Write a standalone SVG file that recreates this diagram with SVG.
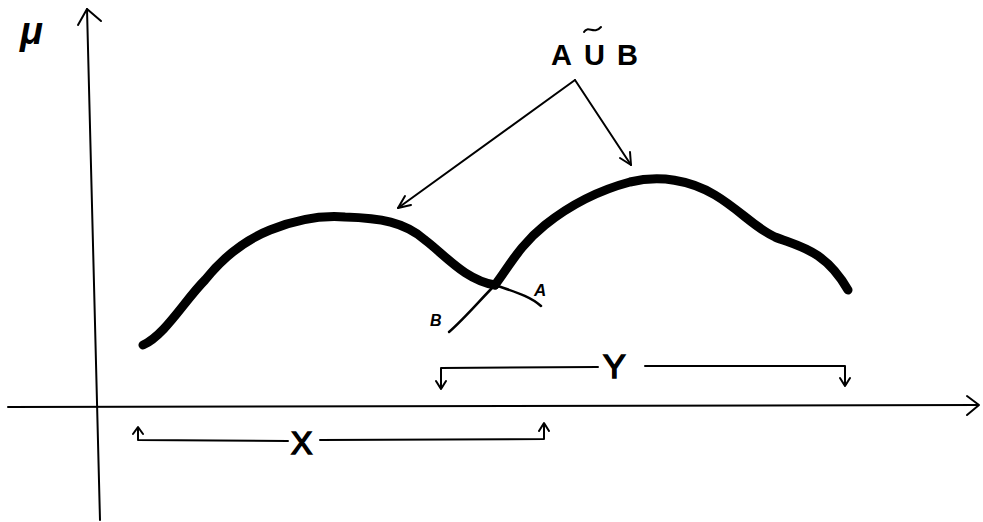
<svg xmlns="http://www.w3.org/2000/svg" width="983" height="522" viewBox="0 0 983 522">
<style>
.ln{fill:none;stroke:#000;stroke-width:2;stroke-linecap:round;stroke-linejoin:round}
.thick{fill:none;stroke:#000;stroke-width:9;stroke-linecap:round;stroke-linejoin:round}
.thin{fill:none;stroke:#000;stroke-width:2.5;stroke-linecap:round}
.t{font-family:"Liberation Sans",Arial,sans-serif;fill:#000}
.big{stroke:#000;stroke-width:1.5}
</style>
<rect width="983" height="522" fill="#fff"/>
<g id="axes">
<path class="ln" d="M100 520 L87 9"/>
<path class="ln" d="M78 25 L87 9 L101 21"/>
<path class="ln" d="M8 407 L978 405"/>
<path class="ln" d="M967 396 L979 405 L967 415"/>
</g>
<g id="mu"><text class="t" x="20" y="44" font-size="38" font-style="italic" font-weight="bold">μ</text></g>
<g id="curves">
<path class="thick" d="M143 345 C165 335 185 300 205 280 C225 255 245 240 270 230 C295 220 320 215 345 217 C380 218 405 222 425 240 C445 255 465 280 495 285"/>
<path class="thick" d="M495 285 C510 265 520 245 545 225 C570 205 600 190 630 182 C660 175 690 180 715 195 C740 210 755 228 775 237 C800 247 825 250 848 290"/>
<path class="thin" d="M495 285 C515 292 530 296 541 306"/>
<path class="thin" d="M495 285 C480 300 465 318 449 332"/>
</g>
<g id="labelA"><text class="t" x="534" y="296" font-size="17" font-style="italic" font-weight="bold">A</text></g>
<g id="labelB"><text class="t" x="430" y="326" font-size="16" font-style="italic" font-weight="bold">B</text></g>
<g id="title"><text class="t" x="551" y="65" font-size="29" font-weight="bold">A</text>
<text class="t" x="584" y="65" font-size="29" font-weight="bold">U</text>
<path class="ln" stroke-width="3" d="M584 32 C588 25 594 35 601 27"/>
<text class="t" x="617" y="65" font-size="29" font-weight="bold">B</text></g>
<g id="connectors">
<path class="ln" d="M575 80 L398 208"/>
<path class="ln" d="M398 208 L405 196 M398 208 L411 205"/>
<path class="ln" d="M575 80 L631 165"/>
<path class="ln" d="M631 165 L630 152 M631 165 L620 158"/>
</g>
<g id="Ybracket">
<path class="ln" stroke-width="2.5" d="M441 388 L441 368 L598 367 M645 366 L845 366 L845 385"/>
<path class="ln" stroke-width="3" d="M436 381 L441 389 L446 381 M840 378 L845 386 L850 378"/>
<text class="t big" x="603" y="378" font-size="34">Y</text>
</g>
<g id="Xbracket">
<path class="ln" stroke-width="2.5" d="M138 428 L138 440 L288 441 M320 440 L544 439 L544 425"/>
<path class="ln" stroke-width="3" d="M133 434 L138 427 L143 434 M539 431 L544 423 L549 431"/>
<text class="t big" x="291" y="454" font-size="32">X</text>
</g>
</svg>
